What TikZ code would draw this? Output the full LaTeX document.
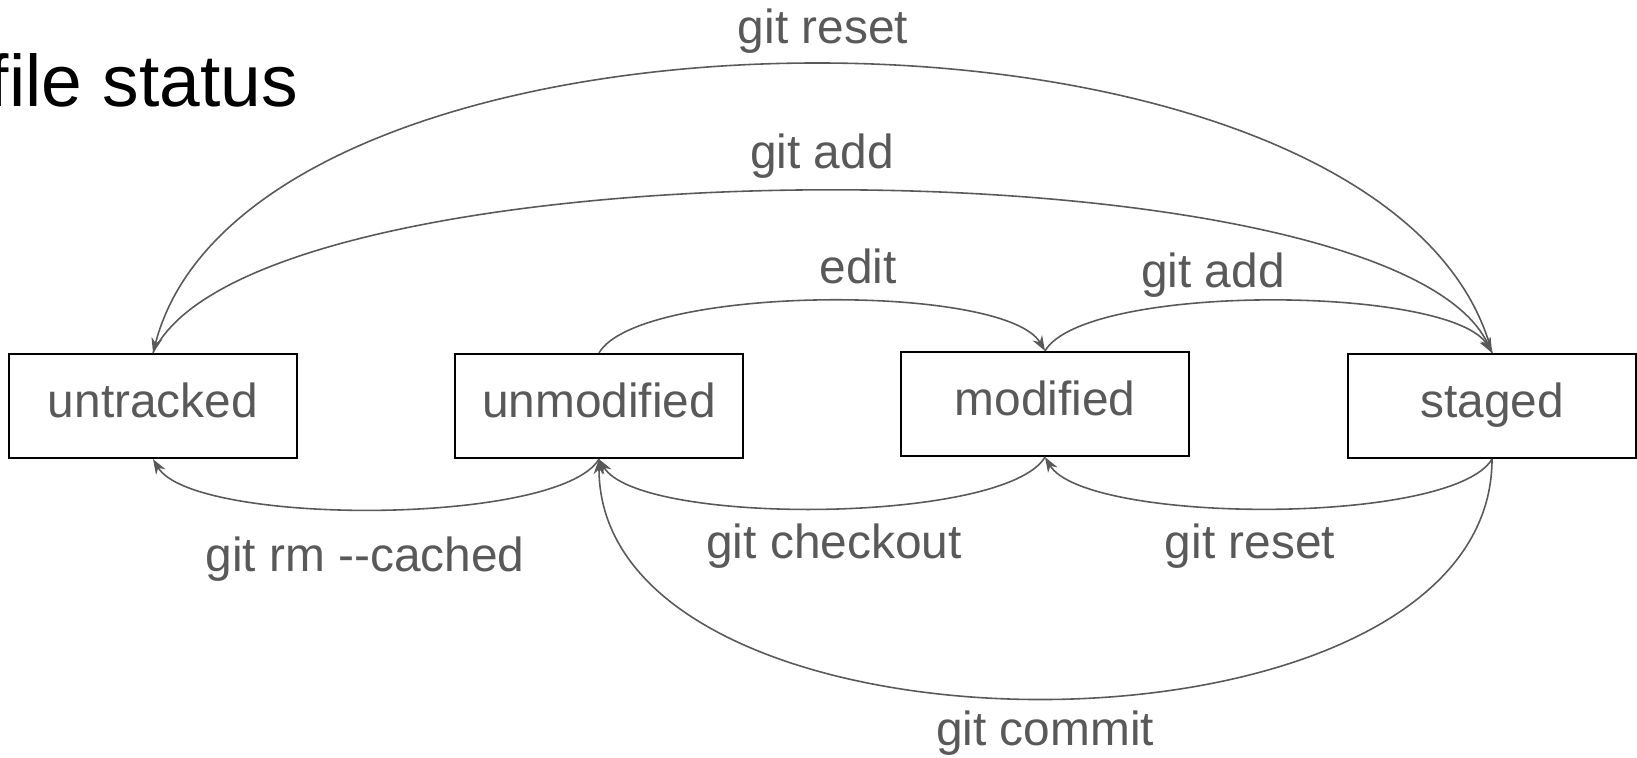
\documentclass[tikz,border=0pt]{standalone}
\usepackage{fontspec}
\setmainfont{Liberation Sans}
\usepackage{xcolor}
\definecolor{gitgray}{RGB}{89,89,89}
\usepackage{tikz}
\usetikzlibrary{arrows.meta}
\tikzset{
  statebox/.style={draw=black,line width=0.6pt,minimum width=2.87cm,minimum height=1.04cm,
    text=gitgray,font=\fontsize{13.6}{16}\selectfont,text height=0.85em,text depth=0.17em},
  flow/.style={draw=gitgray,line width=0.45pt,-{Stealth[length=4.3pt,width=3.1pt]}},
  lbl/.style={text=gitgray,font=\fontsize{13.6}{16}\selectfont,anchor=base,inner sep=0pt}
}

\begin{document}
\begin{tikzpicture}[x=0.01cm,y=0.01cm]
  \useasboundingbox (0,0) rectangle (1637,758);
  \node[anchor=base west,inner sep=0pt,font=\fontsize{20.8}{24}\selectfont] (title) at (-12,651) {file status};

  % the four states
  \node[statebox] (untracked)  at (153,352)  {untracked};
  \node[statebox] (unmodified) at (599,352)  {unmodified};
  \node[statebox] (modified)   at (1045,354) {modified};
  \node[statebox] (staged)     at (1492,352) {staged};

  % transitions above the boxes
  \draw[flow] (staged.north) .. controls +(-100,385) and +(100,385) .. (untracked.north);
  \draw[flow] (untracked.north) .. controls +(100,216) and +(-100,216) .. (staged.north);
  \draw[flow] (unmodified.north) .. controls +(40,68) and +(-40,68) .. (modified.north);
  \draw[flow] (modified.north) .. controls +(40,68) and +(-40,68) .. (staged.north);

  % transitions below the boxes
  \draw[flow] (unmodified.south) .. controls +(-40,-67) and +(40,-67) .. (untracked.south);
  \draw[flow] (modified.south) .. controls +(-40,-67) and +(40,-67) .. (unmodified.south);
  \draw[flow] (staged.south) .. controls +(-40,-67) and +(40,-67) .. (modified.south);
  \draw[flow] (staged.south) .. controls +(0,-319) and +(0,-319) .. (unmodified.south);

  % labels
  \node[lbl] (lreset)    at (823,714)  {git reset};
  \node[lbl] (laddtop)   at (822,589)  {git add};
  \node[lbl] (ledit)     at (858,474)  {edit};
  \node[lbl] (ladd)      at (1213,470) {git add};
  \node[lbl] (lrm)       at (365,186)  {git rm -{}-cached};
  \node[lbl] (lcheckout) at (834,199)  {git checkout};
  \node[lbl] (lresetlow) at (1250,199) {git reset};
  \node[lbl] (lcommit)   at (1045,12)  {git commit};
\end{tikzpicture}
\end{document}
